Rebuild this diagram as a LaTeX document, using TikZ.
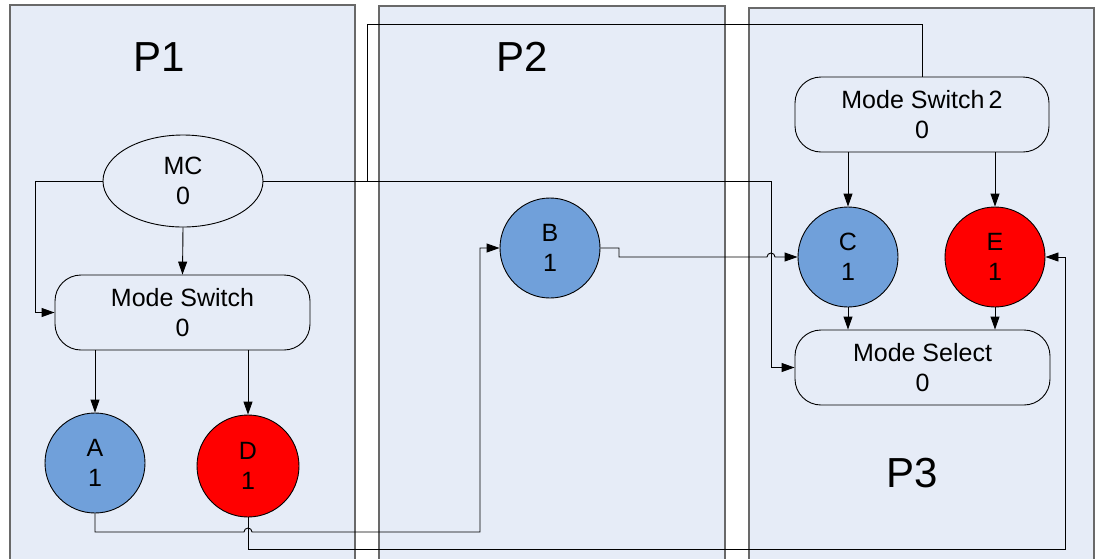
\documentclass[tikz,border=0pt]{standalone}
\usepackage{fontspec}
\setmainfont{Liberation Sans}
\usetikzlibrary{arrows.meta,shapes.geometric}
\definecolor{panelfill}{RGB}{230,236,247}
\definecolor{panelline}{RGB}{105,105,105}
\definecolor{nodeblue}{RGB}{112,160,218}
\definecolor{nodered}{RGB}{255,0,0}
\tikzset{
  panel/.style={draw=panelline,line width=1.6pt,fill=panelfill},
  plabel/.style={font=\fontsize{42}{48}\selectfont,anchor=base,inner sep=0pt},
  txt/.style={font=\fontsize{25}{30}\selectfont,align=center,inner sep=0pt},
  rbox/.style={draw=black,line width=0.9pt,rounded corners=26pt,minimum width=255pt,minimum height=75pt,txt},
  ball/.style={circle,draw=black,line width=0.9pt,minimum size=100pt,txt},
  conn/.style={draw=black,line width=0.9pt},
  arr/.style={conn,-{Triangle[length=13pt,width=9pt]}}
}
\begin{document}
\begin{tikzpicture}[x=1pt,y=-1pt]
\clip (0,0) rectangle (1095,558);
\fill[white] (0,0) rectangle (1095,558);
% panels
\draw[panel] (10,5) rectangle (355,580);
\draw[panel] (379,6) rectangle (725,580);
\draw[panel] (749,8) rectangle (1094,580);
\node[plabel] (p1) at (159,71) {P1};
\node[plabel] (p2) at (522,71) {P2};
\node[plabel] (p3) at (912,487.5) {P3};
% nodes
\node[ellipse,draw=black,line width=0.9pt,fill=panelfill,minimum width=160pt,minimum height=92pt,txt] (MC) at (183,181) {MC\\0};
\node[rbox] (MS) at (182.5,312.5) {Mode Switch\\0};
\node[ball,fill=nodeblue] (A) at (95,463) {A\\1};
\node[ball,fill=nodered,minimum size=102pt] (D) at (248,466) {D\\1};
\node[ball,fill=nodeblue] (B) at (550,248) {B\\1};
\node[rbox,minimum width=254pt] (MS2) at (922,114.5) {Mode Switch\,2\\0};
\node[ball,fill=nodeblue] (C) at (848,257) {C\\1};
\node[ball,fill=nodered] (E) at (995,257) {E\\1};
\node[rbox] (MSel) at (922.5,367.5) {Mode Select\\0};
% connectors
\draw[conn] (MC.east) -| (367,24) -| (MS2.north);
\draw[arr] (MC.east) -| (771,367.5) -- (MSel.west);
\draw[arr] (MC.west) -| (35,312.5) -- (MS.west);
\draw[arr] (MC.south) -- (MS.north);
\draw[arr] (MS.south -| A.north) -- (A.north);
\draw[arr] (MS.south -| D.north) -- (D.north);
\draw[arr] (A.south) |- (244,532) arc (180:0:4pt) -- (480,532) |- (B.west);
\draw[arr] (D.south) |- (1065,549) |- (E.east);
\draw[arr] (B.east) -| (619,257) -- (767,257) arc (180:0:4pt) -- (C.west);
\draw[arr] (MS2.south -| C.north) -- (C.north);
\draw[arr] (MS2.south -| E.north) -- (E.north);
\draw[arr] (C.south) -- (C.south |- MSel.north);
\draw[arr] (E.south) -- (E.south |- MSel.north);
\end{tikzpicture}
\end{document}
